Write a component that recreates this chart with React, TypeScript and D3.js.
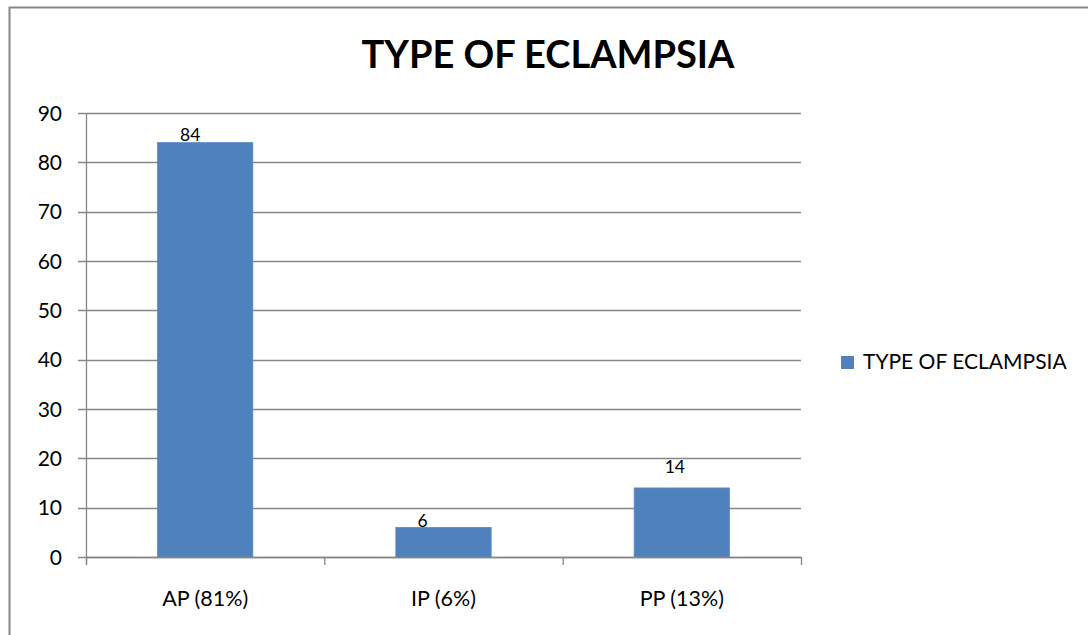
import React from "react";
import * as d3 from "d3";

const categories: string[] = ["AP (81%)", "IP (6%)", "PP (13%)"];
const values: number[] = [84, 6, 14];
const yTicks: number[] = [0, 10, 20, 30, 40, 50, 60, 70, 80, 90];
const seriesName = "TYPE OF ECLAMPSIA";
const chartTitle = "TYPE OF ECLAMPSIA";

// small per-label nudges for the value labels (dx, dy in px)
const labelNudge: [number, number][] = [
  [-15, 0],
  [-21, 2],
  [-7, -13],
];

const W = 1088;
const H = 635;
const FONT = "Lato, 'Liberation Sans', sans-serif";
const GRID = "#868686";
const BAR = "#4F81BD";

export default function App() {
  const left = 86;
  const right = 801;
  const top = 113;
  const bottom = 557;

  const x = d3.scaleBand<string>().domain(categories).range([left, right]).paddingInner(0.6).paddingOuter(0.3);
  const band = d3.scaleBand<string>().domain(categories).range([left, right]).padding(0);
  const y = d3.scaleLinear().domain([0, 90]).range([bottom, top]);

  const tickXs = [...categories.map((c) => band(c) as number), right];

  return (
    <svg
      width={W}
      height={H}
      style={{ position: "absolute", left: 0, top: 0, background: "#fff" }}
      fontFamily={FONT}
    >
      {/* chart frame */}
      <rect x={9.5} y={7.5} width={W + 20} height={H + 20} fill="#fff" stroke={GRID} strokeWidth={2} />

      {/* title */}
      <text x={548} y={68} textAnchor="middle" fontSize={38} fontWeight="bold" fill="#000">
        {chartTitle}
      </text>

      {/* gridlines */}
      {yTicks.map((t) => (
        <line key={"g" + t} x1={left - 8} x2={right} y1={Math.round(y(t)) + 0.5} y2={Math.round(y(t)) + 0.5} stroke={GRID} strokeWidth={1.3} />
      ))}

      {/* y axis */}
      <line x1={left + 0.5} x2={left + 0.5} y1={top} y2={bottom + 8} stroke={GRID} strokeWidth={1.3} />
      {yTicks.map((t) => (
        <text key={"yl" + t} x={62} y={y(t) + 7.5} textAnchor="end" fontSize={21} fill="#000">
          {t}
        </text>
      ))}

      {/* x axis ticks */}
      {tickXs.map((tx, i) => (
        <line key={"xt" + i} x1={tx + 0.5} x2={tx + 0.5} y1={bottom} y2={bottom + 8} stroke={GRID} strokeWidth={1.3} />
      ))}

      {/* bars */}
      {categories.map((c, i) => (
        <rect
          key={"b" + c}
          x={x(c)}
          y={y(values[i])}
          width={x.bandwidth()}
          height={y(0) - y(values[i])}
          fill={BAR}
          stroke="#5A8AC6"
          strokeWidth={0.8}
        />
      ))}

      {/* redraw baseline over bar bottoms */}
      <line x1={left} x2={right} y1={Math.round(y(0)) + 0.5} y2={Math.round(y(0)) + 0.5} stroke={GRID} strokeWidth={1.3} />

      {/* value labels */}
      {categories.map((c, i) => (
        <text
          key={"v" + c}
          x={(x(c) as number) + x.bandwidth() / 2 + labelNudge[i][0]}
          y={y(values[i]) - 2 + labelNudge[i][1]}
          textAnchor="middle"
          fontSize={17.5}
          fill="#000"
        >
          {values[i]}
        </text>
      ))}

      {/* category labels */}
      {categories.map((c) => (
        <text key={"c" + c} x={(band(c) as number) + band.bandwidth() / 2} y={606} textAnchor="middle" fontSize={21.5} fill="#000">
          {c}
        </text>
      ))}

      {/* legend */}
      <rect x={841} y={356} width={13} height={13} fill={BAR} />
      <text x={863} y={369} fontSize={21} fill="#000">
        {seriesName}
      </text>
    </svg>
  );
}
